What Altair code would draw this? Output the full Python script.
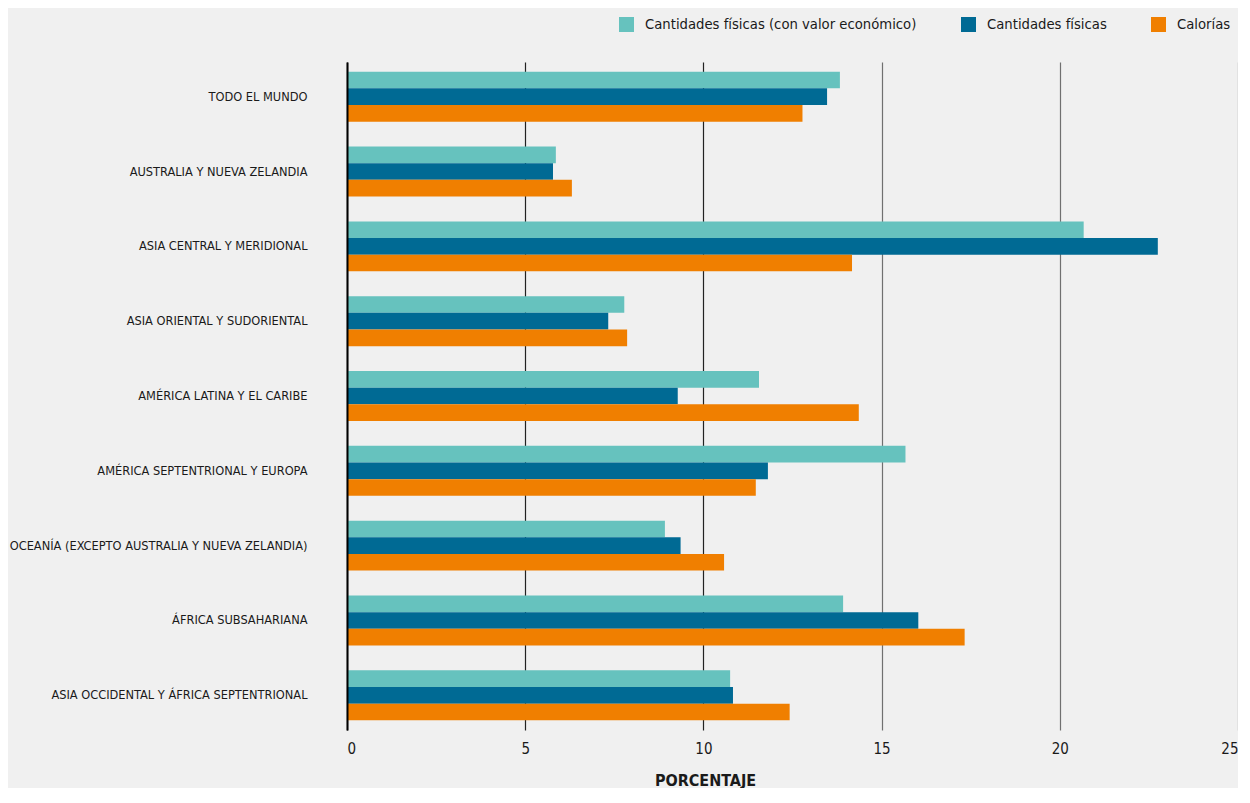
import altair as alt
import pandas as pd

regions = [
    "TODO EL MUNDO",
    "AUSTRALIA Y NUEVA ZELANDIA",
    "ASIA CENTRAL Y MERIDIONAL",
    "ASIA ORIENTAL Y SUDORIENTAL",
    "AMÉRICA LATINA Y EL CARIBE",
    "AMÉRICA SEPTENTRIONAL Y EUROPA",
    "OCEANÍA (EXCEPTO AUSTRALIA Y NUEVA ZELANDIA)",
    "ÁFRICA SUBSAHARIANA",
    "ASIA OCCIDENTAL Y ÁFRICA SEPTENTRIONAL",
]
series = [
    "Cantidades físicas (con valor económico)",
    "Cantidades físicas",
    "Calorías",
]
colors = ["#66c2be", "#006a94", "#f07f00"]

val_economico = [13.83, 5.86, 20.67, 7.78, 11.56, 15.67, 8.92, 13.92, 10.75]
val_fisicas = [13.47, 5.78, 22.75, 7.33, 9.28, 11.81, 9.36, 16.03, 10.83]
val_calorias = [12.78, 6.31, 14.17, 7.86, 14.36, 11.47, 10.58, 17.33, 12.42]

x_ticks = [0, 5, 10, 15, 20, 25]

rows = []
for s, vals in zip(series, [val_economico, val_fisicas, val_calorias]):
    for r, v in zip(regions, vals):
        rows.append({"region": r, "serie": s, "valor": v})
df = pd.DataFrame(rows)

FONT = "DejaVu Sans Condensed, Roboto Condensed, Liberation Sans Narrow, Roboto, sans-serif"

chart = alt.Chart(df).mark_bar().encode(
    y=alt.Y(
        "region:N",
        sort=regions,
        scale=alt.Scale(paddingInner=0.333, paddingOuter=0.13),
        axis=alt.Axis(
            title=None,
            ticks=False,
            domainColor="#000000",
            domainWidth=2,
            labelPadding=40,
            labelFont=FONT,
            labelFontSize=12.7,
            labelColor="#1a1a1a",
            labelLimit=400,
            zindex=1,
        ),
    ),
    x=alt.X(
        "valor:Q",
        scale=alt.Scale(domain=[0, 25], nice=False),
        axis=alt.Axis(
            values=x_ticks,
            title="PORCENTAJE",
            titleFont=FONT,
            titleFontSize=16,
            titleFontWeight="bold",
            titleColor="#1a1a1a",
            titleX=358,
            titleY=50,
            titleAlign="center",
            titleBaseline="middle",
            domain=False,
            ticks=False,
            grid=True,
            gridColor=alt.condition("datum.value <= 10", alt.value("#222222"), alt.value("#707070")),
            gridWidth=1.2,
            labelFont=FONT,
            labelFontSize=15,
            labelColor="#1a1a1a",
            labelPadding=11,
        ),
    ),
    yOffset=alt.YOffset("serie:N", sort=series),
    color=alt.Color(
        "serie:N",
        sort=series,
        scale=alt.Scale(domain=series, range=colors),
        legend=alt.Legend(
            title=None,
            orient="none",
            direction="horizontal",
            legendX=272,
            legendY=-45,
            symbolType="square",
            symbolSize=225,
            symbolStrokeWidth=0,
            symbolOpacity=1,
            labelFont=FONT,
            labelFontSize=14.7,
            labelColor="#1a1a1a",
            labelOffset=11,
            columnPadding=44,
            labelLimit=400,
        ),
    ),
).properties(
    width=891,
    height=668,
    background="#f0f0f0",
    padding={"left": 339, "top": 54, "right": 0, "bottom": 58},
    autosize=alt.AutoSizeParams(type="none"),
).configure_view(stroke=None)

chart.save("out.html", embed_options={"renderer": "svg", "actions": False})
